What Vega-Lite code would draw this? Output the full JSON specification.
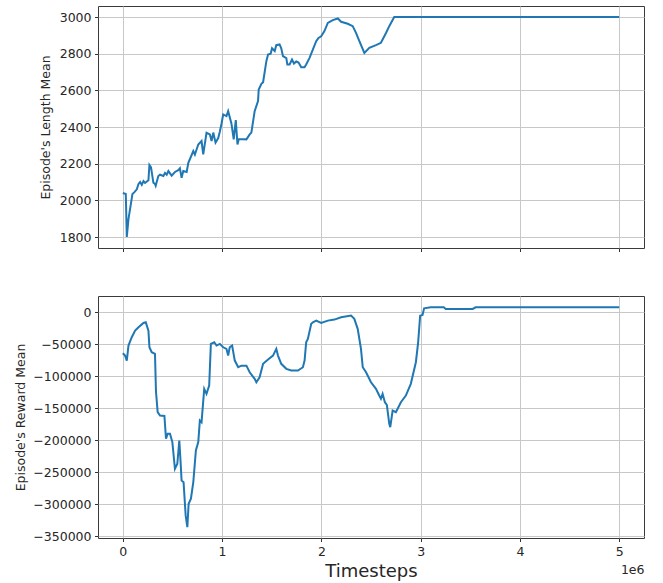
{
  "$schema": "https://vega.github.io/schema/vega-lite/v6.json",
  "background": "white",
  "padding": {"left": 14, "top": 5, "right": 20, "bottom": 3},
  "spacing": 48,
  "bounds": "flush",
  "datasets": {
    "length": [
      {"timesteps": 0, "length_mean": 2040},
      {"timesteps": 30000, "length_mean": 2035},
      {"timesteps": 40000, "length_mean": 1800},
      {"timesteps": 57000, "length_mean": 1898},
      {"timesteps": 97000, "length_mean": 2035},
      {"timesteps": 117000, "length_mean": 2045},
      {"timesteps": 141000, "length_mean": 2060},
      {"timesteps": 158000, "length_mean": 2090},
      {"timesteps": 174000, "length_mean": 2100},
      {"timesteps": 191000, "length_mean": 2085},
      {"timesteps": 208000, "length_mean": 2105},
      {"timesteps": 224000, "length_mean": 2095},
      {"timesteps": 258000, "length_mean": 2110},
      {"timesteps": 268000, "length_mean": 2193},
      {"timesteps": 284000, "length_mean": 2180},
      {"timesteps": 308000, "length_mean": 2096},
      {"timesteps": 324000, "length_mean": 2090},
      {"timesteps": 331000, "length_mean": 2080},
      {"timesteps": 358000, "length_mean": 2133},
      {"timesteps": 375000, "length_mean": 2140},
      {"timesteps": 409000, "length_mean": 2133},
      {"timesteps": 425000, "length_mean": 2150},
      {"timesteps": 442000, "length_mean": 2140},
      {"timesteps": 459000, "length_mean": 2160},
      {"timesteps": 492000, "length_mean": 2135},
      {"timesteps": 525000, "length_mean": 2155},
      {"timesteps": 559000, "length_mean": 2165},
      {"timesteps": 575000, "length_mean": 2175},
      {"timesteps": 592000, "length_mean": 2123},
      {"timesteps": 609000, "length_mean": 2160},
      {"timesteps": 643000, "length_mean": 2155},
      {"timesteps": 660000, "length_mean": 2205},
      {"timesteps": 710000, "length_mean": 2269},
      {"timesteps": 726000, "length_mean": 2250},
      {"timesteps": 760000, "length_mean": 2305},
      {"timesteps": 793000, "length_mean": 2324},
      {"timesteps": 810000, "length_mean": 2251},
      {"timesteps": 843000, "length_mean": 2369},
      {"timesteps": 877000, "length_mean": 2360},
      {"timesteps": 894000, "length_mean": 2324},
      {"timesteps": 911000, "length_mean": 2370},
      {"timesteps": 934000, "length_mean": 2315},
      {"timesteps": 961000, "length_mean": 2340},
      {"timesteps": 977000, "length_mean": 2375},
      {"timesteps": 994000, "length_mean": 2418},
      {"timesteps": 1011000, "length_mean": 2469},
      {"timesteps": 1044000, "length_mean": 2460},
      {"timesteps": 1061000, "length_mean": 2487},
      {"timesteps": 1094000, "length_mean": 2420},
      {"timesteps": 1117000, "length_mean": 2333},
      {"timesteps": 1138000, "length_mean": 2438},
      {"timesteps": 1155000, "length_mean": 2305},
      {"timesteps": 1168000, "length_mean": 2335},
      {"timesteps": 1245000, "length_mean": 2333},
      {"timesteps": 1278000, "length_mean": 2360},
      {"timesteps": 1295000, "length_mean": 2370},
      {"timesteps": 1328000, "length_mean": 2487},
      {"timesteps": 1362000, "length_mean": 2542},
      {"timesteps": 1369000, "length_mean": 2605},
      {"timesteps": 1396000, "length_mean": 2636},
      {"timesteps": 1413000, "length_mean": 2645},
      {"timesteps": 1446000, "length_mean": 2760},
      {"timesteps": 1463000, "length_mean": 2796},
      {"timesteps": 1489000, "length_mean": 2800},
      {"timesteps": 1503000, "length_mean": 2830},
      {"timesteps": 1530000, "length_mean": 2815},
      {"timesteps": 1546000, "length_mean": 2847},
      {"timesteps": 1579000, "length_mean": 2851},
      {"timesteps": 1596000, "length_mean": 2830},
      {"timesteps": 1613000, "length_mean": 2787},
      {"timesteps": 1647000, "length_mean": 2776},
      {"timesteps": 1657000, "length_mean": 2742},
      {"timesteps": 1680000, "length_mean": 2742},
      {"timesteps": 1704000, "length_mean": 2769},
      {"timesteps": 1724000, "length_mean": 2747},
      {"timesteps": 1747000, "length_mean": 2758},
      {"timesteps": 1770000, "length_mean": 2752},
      {"timesteps": 1797000, "length_mean": 2727},
      {"timesteps": 1830000, "length_mean": 2727},
      {"timesteps": 1847000, "length_mean": 2742},
      {"timesteps": 1881000, "length_mean": 2778},
      {"timesteps": 1915000, "length_mean": 2824},
      {"timesteps": 1948000, "length_mean": 2869},
      {"timesteps": 1971000, "length_mean": 2887},
      {"timesteps": 1998000, "length_mean": 2896},
      {"timesteps": 2031000, "length_mean": 2924},
      {"timesteps": 2065000, "length_mean": 2969},
      {"timesteps": 2115000, "length_mean": 2984},
      {"timesteps": 2166000, "length_mean": 2993},
      {"timesteps": 2199000, "length_mean": 2975},
      {"timesteps": 2266000, "length_mean": 2964},
      {"timesteps": 2316000, "length_mean": 2951},
      {"timesteps": 2349000, "length_mean": 2914},
      {"timesteps": 2383000, "length_mean": 2869},
      {"timesteps": 2433000, "length_mean": 2805},
      {"timesteps": 2483000, "length_mean": 2833},
      {"timesteps": 2550000, "length_mean": 2847},
      {"timesteps": 2600000, "length_mean": 2860},
      {"timesteps": 2651000, "length_mean": 2914},
      {"timesteps": 2684000, "length_mean": 2951},
      {"timesteps": 2734000, "length_mean": 3001},
      {"timesteps": 3500000, "length_mean": 3001},
      {"timesteps": 4250000, "length_mean": 3001},
      {"timesteps": 5000000, "length_mean": 3001}
    ],
    "reward": [
      {"timesteps": 0, "reward_mean": -64000},
      {"timesteps": 23000, "reward_mean": -67700},
      {"timesteps": 40000, "reward_mean": -75500},
      {"timesteps": 57000, "reward_mean": -52000},
      {"timesteps": 90000, "reward_mean": -39000},
      {"timesteps": 124000, "reward_mean": -28600},
      {"timesteps": 158000, "reward_mean": -23400},
      {"timesteps": 208000, "reward_mean": -16600},
      {"timesteps": 231000, "reward_mean": -15600},
      {"timesteps": 258000, "reward_mean": -28600},
      {"timesteps": 268000, "reward_mean": -54700},
      {"timesteps": 291000, "reward_mean": -62500},
      {"timesteps": 324000, "reward_mean": -65000},
      {"timesteps": 334000, "reward_mean": -123900},
      {"timesteps": 351000, "reward_mean": -156200},
      {"timesteps": 375000, "reward_mean": -161400},
      {"timesteps": 419000, "reward_mean": -162000},
      {"timesteps": 435000, "reward_mean": -197800},
      {"timesteps": 452000, "reward_mean": -190000},
      {"timesteps": 475000, "reward_mean": -190000},
      {"timesteps": 499000, "reward_mean": -203000},
      {"timesteps": 525000, "reward_mean": -244700},
      {"timesteps": 549000, "reward_mean": -236900},
      {"timesteps": 569000, "reward_mean": -200500},
      {"timesteps": 582000, "reward_mean": -234400},
      {"timesteps": 592000, "reward_mean": -263000},
      {"timesteps": 612000, "reward_mean": -265600},
      {"timesteps": 633000, "reward_mean": -317700},
      {"timesteps": 650000, "reward_mean": -336000},
      {"timesteps": 663000, "reward_mean": -299400},
      {"timesteps": 686000, "reward_mean": -291600},
      {"timesteps": 710000, "reward_mean": -265600},
      {"timesteps": 736000, "reward_mean": -216100},
      {"timesteps": 760000, "reward_mean": -203000},
      {"timesteps": 776000, "reward_mean": -169200},
      {"timesteps": 793000, "reward_mean": -171900},
      {"timesteps": 820000, "reward_mean": -119700},
      {"timesteps": 843000, "reward_mean": -127500},
      {"timesteps": 870000, "reward_mean": -114500},
      {"timesteps": 887000, "reward_mean": -49400},
      {"timesteps": 921000, "reward_mean": -46900},
      {"timesteps": 944000, "reward_mean": -52000},
      {"timesteps": 977000, "reward_mean": -49400},
      {"timesteps": 1011000, "reward_mean": -54700},
      {"timesteps": 1044000, "reward_mean": -57200},
      {"timesteps": 1061000, "reward_mean": -67700},
      {"timesteps": 1077000, "reward_mean": -54700},
      {"timesteps": 1101000, "reward_mean": -52000},
      {"timesteps": 1128000, "reward_mean": -75500},
      {"timesteps": 1162000, "reward_mean": -85900},
      {"timesteps": 1195000, "reward_mean": -83400},
      {"timesteps": 1245000, "reward_mean": -83400},
      {"timesteps": 1278000, "reward_mean": -93800},
      {"timesteps": 1328000, "reward_mean": -104100},
      {"timesteps": 1345000, "reward_mean": -109400},
      {"timesteps": 1378000, "reward_mean": -101600},
      {"timesteps": 1413000, "reward_mean": -80600},
      {"timesteps": 1463000, "reward_mean": -73900},
      {"timesteps": 1513000, "reward_mean": -67700},
      {"timesteps": 1546000, "reward_mean": -57200},
      {"timesteps": 1563000, "reward_mean": -67700},
      {"timesteps": 1596000, "reward_mean": -80600},
      {"timesteps": 1647000, "reward_mean": -88400},
      {"timesteps": 1697000, "reward_mean": -91100},
      {"timesteps": 1764000, "reward_mean": -91100},
      {"timesteps": 1814000, "reward_mean": -85900},
      {"timesteps": 1831000, "reward_mean": -75500},
      {"timesteps": 1847000, "reward_mean": -46900},
      {"timesteps": 1864000, "reward_mean": -41600},
      {"timesteps": 1898000, "reward_mean": -18100},
      {"timesteps": 1915000, "reward_mean": -15600},
      {"timesteps": 1948000, "reward_mean": -13000},
      {"timesteps": 1998000, "reward_mean": -16600},
      {"timesteps": 2065000, "reward_mean": -13000},
      {"timesteps": 2131000, "reward_mean": -11400},
      {"timesteps": 2199000, "reward_mean": -7800},
      {"timesteps": 2299000, "reward_mean": -5200},
      {"timesteps": 2332000, "reward_mean": -10300},
      {"timesteps": 2366000, "reward_mean": -25900},
      {"timesteps": 2399000, "reward_mean": -57200},
      {"timesteps": 2417000, "reward_mean": -85900},
      {"timesteps": 2450000, "reward_mean": -93800},
      {"timesteps": 2500000, "reward_mean": -109400},
      {"timesteps": 2550000, "reward_mean": -119700},
      {"timesteps": 2583000, "reward_mean": -130200},
      {"timesteps": 2600000, "reward_mean": -135300},
      {"timesteps": 2617000, "reward_mean": -127500},
      {"timesteps": 2640000, "reward_mean": -140600},
      {"timesteps": 2660000, "reward_mean": -145000},
      {"timesteps": 2684000, "reward_mean": -174400},
      {"timesteps": 2694000, "reward_mean": -179700},
      {"timesteps": 2718000, "reward_mean": -153600},
      {"timesteps": 2751000, "reward_mean": -156200},
      {"timesteps": 2801000, "reward_mean": -140600},
      {"timesteps": 2851000, "reward_mean": -130200},
      {"timesteps": 2901000, "reward_mean": -111900},
      {"timesteps": 2952000, "reward_mean": -78100},
      {"timesteps": 2975000, "reward_mean": -46900},
      {"timesteps": 2995000, "reward_mean": -5200},
      {"timesteps": 3019000, "reward_mean": -4000},
      {"timesteps": 3035000, "reward_mean": 6300},
      {"timesteps": 3102000, "reward_mean": 7800},
      {"timesteps": 3233000, "reward_mean": 7800},
      {"timesteps": 3253000, "reward_mean": 5300},
      {"timesteps": 3524000, "reward_mean": 5300},
      {"timesteps": 3554000, "reward_mean": 7800},
      {"timesteps": 4300000, "reward_mean": 7900},
      {"timesteps": 5000000, "reward_mean": 8000}
    ]
  },
  "vconcat": [
    {
      "width": 546,
      "height": 242,
      "data": {"name": "length"},
      "mark": {"type": "line", "color": "#1f77b4", "strokeWidth": 2},
      "encoding": {
        "x": {
          "field": "timesteps",
          "type": "quantitative",
          "scale": {"domain": [-250000, 5250000], "nice": false, "zero": false},
          "axis": {"values": [0, 1000000, 2000000, 3000000, 4000000, 5000000], "labels": false, "title": null}
        },
        "y": {
          "field": "length_mean",
          "type": "quantitative",
          "scale": {"domain": [1740, 3061], "nice": false, "zero": false},
          "axis": {"values": [1800, 2000, 2200, 2400, 2600, 2800, 3000], "format": "d", "title": "Episode's Length Mean", "titlePadding": 7, "titleColor": "#262626"}
        }
      }
    },
    {
      "width": 546,
      "height": 242,
      "data": {"name": "reward"},
      "resolve": {"axis": {"x": "independent", "y": "shared"}},
      "encoding": {
        "y": {
          "field": "reward_mean",
          "type": "quantitative",
          "scale": {"domain": [-353000, 25500], "nice": false, "zero": false},
          "axis": {"values": [0, -50000, -100000, -150000, -200000, -250000, -300000, -350000], "format": "d", "title": "Episode's Reward Mean", "titlePadding": 5, "titleColor": "#262626"}
        }
      },
      "layer": [
        {
          "mark": {"type": "line", "color": "#1f77b4", "strokeWidth": 2},
          "encoding": {
            "x": {
              "field": "timesteps",
              "type": "quantitative",
              "scale": {"domain": [-250000, 5250000], "nice": false, "zero": false},
              "axis": {"values": [0, 1000000, 2000000, 3000000, 4000000, 5000000], "labelExpr": "format(datum.value / 1000000, 'd')", "title": "Timesteps", "titleFontSize": 18, "titlePadding": 5, "orient": "bottom"}
            }
          }
        },
        {
          "mark": {"type": "line", "opacity": 0},
          "encoding": {
            "x": {
              "field": "timesteps",
              "type": "quantitative",
              "axis": {"orient": "bottom", "labels": false, "ticks": false, "domain": false, "grid": false, "minExtent": 0, "title": "1e6", "titleFontSize": 12.5, "titleAnchor": "end", "titleAlign": "right", "titlePadding": 25}
            }
          }
        }
      ]
    }
  ],
  "config": {
    "font": "DejaVu Sans",
    "view": {"stroke": "#3a3a3a", "strokeWidth": 1},
    "axis": {
      "domain": false,
      "grid": true,
      "gridColor": "#c8c8c8",
      "gridWidth": 1,
      "tickColor": "#333333",
      "tickSize": 3.5,
      "labelPadding": 3.5,
      "labelFont": "DejaVu Sans",
      "labelFontSize": 12.5,
      "labelColor": "#262626",
      "labelFlush": false,
      "labelOverlap": false,
      "titleFont": "DejaVu Sans",
      "titleFontSize": 12.5,
      "titleFontWeight": "normal",
      "titleColor": "#262626"
    }
  }
}
